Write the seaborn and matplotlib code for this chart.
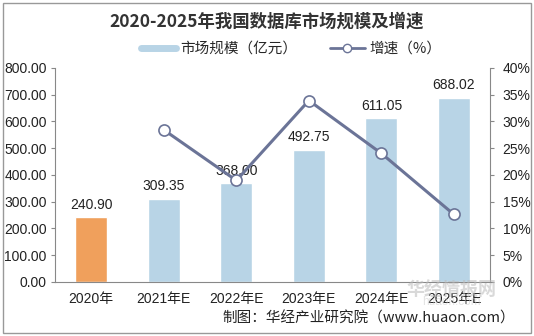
import matplotlib
matplotlib.use("Agg")
import matplotlib.pyplot as plt
import seaborn as sns
import pandas as pd
from matplotlib.lines import Line2D
from matplotlib.patches import Rectangle

categories = ["2020年", "2021年E", "2022年E", "2023年E", "2024年E", "2025年E"]
market_size = [240.90, 309.35, 368.00, 492.75, 611.05, 688.02]
growth_cats = ["2021年E", "2022年E", "2023年E", "2024年E", "2025年E"]
growth_rate = [28.41, 18.96, 33.90, 24.01, 12.60]
left_ticks = [0, 100, 200, 300, 400, 500, 600, 700, 800]
right_ticks = [0, 5, 10, 15, 20, 25, 30, 35, 40]

sns.set_style("white")
plt.rcParams['font.family'] = ['Liberation Sans', 'Noto Sans CJK SC', 'DejaVu Sans']
cjk = ['Noto Sans CJK SC', 'DejaVu Sans']

bar_colors = ["#F0A05C"] + ["#B8D4E6"] * 5
line_color = "#6B7497"

fig = plt.figure(figsize=(5.34, 3.36), dpi=100)
ax = fig.add_axes([0.103, 0.161, 0.815, 0.637])

df = pd.DataFrame({"cat": categories, "val": market_size})
sns.barplot(data=df, x="cat", y="val", hue="cat", palette=bar_colors,
            order=categories, width=0.44, legend=False, ax=ax, saturation=1)
ax.set_ylim(0, 800)
ax.set_yticks(left_ticks)
ax.set_yticklabels([f"{v:.2f}" for v in left_ticks], fontsize=10, color="#222222")
ax.set_xlabel("")
ax.set_ylabel("")
ax.tick_params(axis="x", labelsize=10, colors="#222222", length=0, pad=7)
ax.tick_params(axis="y", length=3, width=0.8, color="#888888", pad=3)
for sp in ["top", "right"]:
    ax.spines[sp].set_visible(False)
ax.spines["left"].set_color("#888888")
ax.spines["bottom"].set_color("#888888")
ax.set_xlim(-0.5, 5.5)

for i, v in enumerate(market_size):
    ax.text(i, v + 22, f"{v:.2f}", ha="center", va="bottom", fontsize=10, color="#222222")

ax2 = ax.twinx()
gdf = pd.DataFrame({"cat": [categories.index(c) for c in growth_cats], "g": growth_rate})
sns.lineplot(data=gdf, x="cat", y="g", ax=ax2, color=line_color, linewidth=2.2,
             marker="o", markersize=8, markerfacecolor="white",
             markeredgecolor=line_color, markeredgewidth=1.2)
ax2.set_ylim(0, 40)
ax2.set_yticks(right_ticks)
ax2.set_yticklabels([f"{v}%" for v in right_ticks], fontsize=10, color="#222222")
ax2.set_ylabel("")
ax2.tick_params(axis="y", length=3, width=0.8, color="#888888", pad=6)
for sp in ["top", "left", "bottom"]:
    ax2.spines[sp].set_visible(False)
ax2.spines["right"].set_color("#888888")
ax2.set_xlim(-0.5, 5.5)

fig.text(0.5, 0.935, "2020-2025年我国数据库市场规模及增速", ha="center", va="center",
         fontsize=12.5, fontweight="bold", color="#333333", family=cjk)

handles = [Line2D([0], [0], color="#B8D4E6", linewidth=5),
           Line2D([0], [0], color=line_color, linewidth=2, marker="o", markersize=6,
                  markerfacecolor="white", markeredgecolor=line_color)]
fig.legend(handles, ["市场规模（亿元）", "增速（%）"], loc="center", bbox_to_anchor=(0.545, 0.855),
           ncol=2, frameon=False, prop={"family": cjk, "size": 10.5},
           handlelength=2.4, columnspacing=2.2, handletextpad=0.3)

fig.text(0.965, 0.053, "制图：华经产业研究院（www.huaon.com）", ha="right", va="center",
         fontsize=10.5, color="#222222", family=cjk)
fig.text(0.845, 0.135, "华经情报网", ha="center", va="center", fontsize=13, fontweight="bold",
         color="#BBBBBB", alpha=0.55, family=cjk)
fig.text(0.845, 0.1, "huaon.com", ha="center", va="center", fontsize=8.5,
         color="#CCCCCC", alpha=0.55)

fig.patches.append(Rectangle((0.006, 0.009), 0.988, 0.982, transform=fig.transFigure,
                             fill=False, edgecolor="#999999", linewidth=1))

fig.savefig("out.png", dpi=100)
